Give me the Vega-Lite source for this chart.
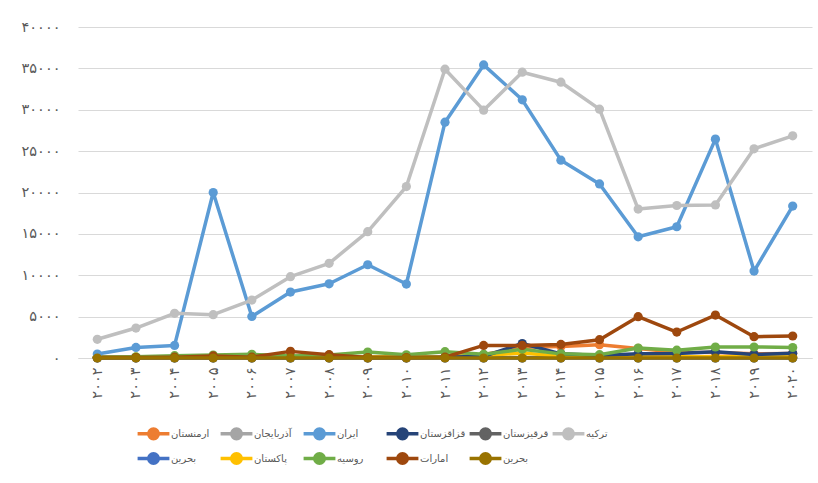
{
  "$schema": "https://vega.github.io/schema/vega-lite/v6.json",
  "width": 734,
  "height": 331,
  "autosize": {"type": "none"},
  "padding": {"left": 78, "top": 27, "right": 6, "bottom": 125},
  "background": "white",
  "config": {
    "font": "DejaVu Sans",
    "view": {"stroke": null},
    "legend": {"gridAlign": "all"},
    "line": {"strokeWidth": 3.5, "strokeJoin": "round", "strokeCap": "round"},
    "axis": {"labelColor": "#595959", "labelFontSize": 14.5, "gridColor": "#D9D9D9", "gridWidth": 1, "ticks": false, "tickSize": 0, "title": null}
  },
  "datasets": {
    "rows": [
      {"year": 2002, "country": "آذربایجان", "value": 60},
      {"year": 2003, "country": "آذربایجان", "value": 60},
      {"year": 2004, "country": "آذربایجان", "value": 60},
      {"year": 2005, "country": "آذربایجان", "value": 60},
      {"year": 2006, "country": "آذربایجان", "value": 60},
      {"year": 2007, "country": "آذربایجان", "value": 60},
      {"year": 2008, "country": "آذربایجان", "value": 60},
      {"year": 2009, "country": "آذربایجان", "value": 60},
      {"year": 2010, "country": "آذربایجان", "value": 60},
      {"year": 2011, "country": "آذربایجان", "value": 60},
      {"year": 2012, "country": "آذربایجان", "value": 60},
      {"year": 2013, "country": "آذربایجان", "value": 60},
      {"year": 2014, "country": "آذربایجان", "value": 60},
      {"year": 2015, "country": "آذربایجان", "value": 60},
      {"year": 2016, "country": "آذربایجان", "value": 60},
      {"year": 2017, "country": "آذربایجان", "value": 60},
      {"year": 2018, "country": "آذربایجان", "value": 60},
      {"year": 2019, "country": "آذربایجان", "value": 60},
      {"year": 2020, "country": "آذربایجان", "value": 60},
      {"year": 2002, "country": "قرقیزستان", "value": 20},
      {"year": 2003, "country": "قرقیزستان", "value": 20},
      {"year": 2004, "country": "قرقیزستان", "value": 20},
      {"year": 2005, "country": "قرقیزستان", "value": 20},
      {"year": 2006, "country": "قرقیزستان", "value": 20},
      {"year": 2007, "country": "قرقیزستان", "value": 20},
      {"year": 2008, "country": "قرقیزستان", "value": 20},
      {"year": 2009, "country": "قرقیزستان", "value": 20},
      {"year": 2010, "country": "قرقیزستان", "value": 20},
      {"year": 2011, "country": "قرقیزستان", "value": 20},
      {"year": 2012, "country": "قرقیزستان", "value": 20},
      {"year": 2013, "country": "قرقیزستان", "value": 20},
      {"year": 2014, "country": "قرقیزستان", "value": 20},
      {"year": 2015, "country": "قرقیزستان", "value": 20},
      {"year": 2016, "country": "قرقیزستان", "value": 20},
      {"year": 2017, "country": "قرقیزستان", "value": 20},
      {"year": 2018, "country": "قرقیزستان", "value": 20},
      {"year": 2019, "country": "قرقیزستان", "value": 20},
      {"year": 2020, "country": "قرقیزستان", "value": 20},
      {"year": 2002, "country": "بحرین", "value": 10},
      {"year": 2003, "country": "بحرین", "value": 10},
      {"year": 2004, "country": "بحرین", "value": 10},
      {"year": 2005, "country": "بحرین", "value": 10},
      {"year": 2006, "country": "بحرین", "value": 10},
      {"year": 2007, "country": "بحرین", "value": 10},
      {"year": 2008, "country": "بحرین", "value": 10},
      {"year": 2009, "country": "بحرین", "value": 10},
      {"year": 2010, "country": "بحرین", "value": 10},
      {"year": 2011, "country": "بحرین", "value": 10},
      {"year": 2012, "country": "بحرین", "value": 10},
      {"year": 2013, "country": "بحرین", "value": 10},
      {"year": 2014, "country": "بحرین", "value": 10},
      {"year": 2015, "country": "بحرین", "value": 10},
      {"year": 2016, "country": "بحرین", "value": 10},
      {"year": 2017, "country": "بحرین", "value": 10},
      {"year": 2018, "country": "بحرین", "value": 10},
      {"year": 2019, "country": "بحرین", "value": 10},
      {"year": 2020, "country": "بحرین", "value": 10},
      {"year": 2002, "country": "ارمنستان", "value": 80},
      {"year": 2003, "country": "ارمنستان", "value": 80},
      {"year": 2004, "country": "ارمنستان", "value": 80},
      {"year": 2005, "country": "ارمنستان", "value": 80},
      {"year": 2006, "country": "ارمنستان", "value": 80},
      {"year": 2007, "country": "ارمنستان", "value": 80},
      {"year": 2008, "country": "ارمنستان", "value": 80},
      {"year": 2009, "country": "ارمنستان", "value": 80},
      {"year": 2010, "country": "ارمنستان", "value": 80},
      {"year": 2011, "country": "ارمنستان", "value": 100},
      {"year": 2012, "country": "ارمنستان", "value": 400},
      {"year": 2013, "country": "ارمنستان", "value": 1300},
      {"year": 2014, "country": "ارمنستان", "value": 1400},
      {"year": 2015, "country": "ارمنستان", "value": 1600},
      {"year": 2016, "country": "ارمنستان", "value": 1150},
      {"year": 2017, "country": "ارمنستان", "value": 700},
      {"year": 2018, "country": "ارمنستان", "value": 650},
      {"year": 2019, "country": "ارمنستان", "value": 500},
      {"year": 2020, "country": "ارمنستان", "value": 550},
      {"year": 2002, "country": "پاکستان", "value": 100},
      {"year": 2003, "country": "پاکستان", "value": 100},
      {"year": 2004, "country": "پاکستان", "value": 120},
      {"year": 2005, "country": "پاکستان", "value": 120},
      {"year": 2006, "country": "پاکستان", "value": 120},
      {"year": 2007, "country": "پاکستان", "value": 150},
      {"year": 2008, "country": "پاکستان", "value": 150},
      {"year": 2009, "country": "پاکستان", "value": 150},
      {"year": 2010, "country": "پاکستان", "value": 150},
      {"year": 2011, "country": "پاکستان", "value": 150},
      {"year": 2012, "country": "پاکستان", "value": 300},
      {"year": 2013, "country": "پاکستان", "value": 600},
      {"year": 2014, "country": "پاکستان", "value": 200},
      {"year": 2015, "country": "پاکستان", "value": 150},
      {"year": 2016, "country": "پاکستان", "value": 150},
      {"year": 2017, "country": "پاکستان", "value": 150},
      {"year": 2018, "country": "پاکستان", "value": 150},
      {"year": 2019, "country": "پاکستان", "value": 150},
      {"year": 2020, "country": "پاکستان", "value": 150},
      {"year": 2002, "country": "قزاقزستان", "value": 50},
      {"year": 2003, "country": "قزاقزستان", "value": 50},
      {"year": 2004, "country": "قزاقزستان", "value": 50},
      {"year": 2005, "country": "قزاقزستان", "value": 50},
      {"year": 2006, "country": "قزاقزستان", "value": 50},
      {"year": 2007, "country": "قزاقزستان", "value": 50},
      {"year": 2008, "country": "قزاقزستان", "value": 50},
      {"year": 2009, "country": "قزاقزستان", "value": 50},
      {"year": 2010, "country": "قزاقزستان", "value": 50},
      {"year": 2011, "country": "قزاقزستان", "value": 80},
      {"year": 2012, "country": "قزاقزستان", "value": 200},
      {"year": 2013, "country": "قزاقزستان", "value": 1750},
      {"year": 2014, "country": "قزاقزستان", "value": 500},
      {"year": 2015, "country": "قزاقزستان", "value": 300},
      {"year": 2016, "country": "قزاقزستان", "value": 500},
      {"year": 2017, "country": "قزاقزستان", "value": 550},
      {"year": 2018, "country": "قزاقزستان", "value": 750},
      {"year": 2019, "country": "قزاقزستان", "value": 420},
      {"year": 2020, "country": "قزاقزستان", "value": 580},
      {"year": 2002, "country": "روسیه", "value": 100},
      {"year": 2003, "country": "روسیه", "value": 150},
      {"year": 2004, "country": "روسیه", "value": 280},
      {"year": 2005, "country": "روسیه", "value": 360},
      {"year": 2006, "country": "روسیه", "value": 440},
      {"year": 2007, "country": "روسیه", "value": 250},
      {"year": 2008, "country": "روسیه", "value": 350},
      {"year": 2009, "country": "روسیه", "value": 720},
      {"year": 2010, "country": "روسیه", "value": 380},
      {"year": 2011, "country": "روسیه", "value": 760},
      {"year": 2012, "country": "روسیه", "value": 440},
      {"year": 2013, "country": "روسیه", "value": 1050},
      {"year": 2014, "country": "روسیه", "value": 500},
      {"year": 2015, "country": "روسیه", "value": 400},
      {"year": 2016, "country": "روسیه", "value": 1200},
      {"year": 2017, "country": "روسیه", "value": 950},
      {"year": 2018, "country": "روسیه", "value": 1330},
      {"year": 2019, "country": "روسیه", "value": 1330},
      {"year": 2020, "country": "روسیه", "value": 1270},
      {"year": 2002, "country": "امارات", "value": 50},
      {"year": 2003, "country": "امارات", "value": 50},
      {"year": 2004, "country": "امارات", "value": 100},
      {"year": 2005, "country": "امارات", "value": 250},
      {"year": 2006, "country": "امارات", "value": 100},
      {"year": 2007, "country": "امارات", "value": 800},
      {"year": 2008, "country": "امارات", "value": 400},
      {"year": 2009, "country": "امارات", "value": 50},
      {"year": 2010, "country": "امارات", "value": 50},
      {"year": 2011, "country": "امارات", "value": 100},
      {"year": 2012, "country": "امارات", "value": 1520},
      {"year": 2013, "country": "امارات", "value": 1520},
      {"year": 2014, "country": "امارات", "value": 1640},
      {"year": 2015, "country": "امارات", "value": 2210},
      {"year": 2016, "country": "امارات", "value": 4990},
      {"year": 2017, "country": "امارات", "value": 3140},
      {"year": 2018, "country": "امارات", "value": 5190},
      {"year": 2019, "country": "امارات", "value": 2570},
      {"year": 2020, "country": "امارات", "value": 2660},
      {"year": 2002, "country": "ایران", "value": 480},
      {"year": 2003, "country": "ایران", "value": 1280},
      {"year": 2004, "country": "ایران", "value": 1520},
      {"year": 2005, "country": "ایران", "value": 20000},
      {"year": 2006, "country": "ایران", "value": 5020},
      {"year": 2007, "country": "ایران", "value": 7970},
      {"year": 2008, "country": "ایران", "value": 8970},
      {"year": 2009, "country": "ایران", "value": 11270},
      {"year": 2010, "country": "ایران", "value": 8940},
      {"year": 2011, "country": "ایران", "value": 28500},
      {"year": 2012, "country": "ایران", "value": 35420},
      {"year": 2013, "country": "ایران", "value": 31200},
      {"year": 2014, "country": "ایران", "value": 23910},
      {"year": 2015, "country": "ایران", "value": 21030},
      {"year": 2016, "country": "ایران", "value": 14650},
      {"year": 2017, "country": "ایران", "value": 15860},
      {"year": 2018, "country": "ایران", "value": 26450},
      {"year": 2019, "country": "ایران", "value": 10510},
      {"year": 2020, "country": "ایران", "value": 18360},
      {"year": 2002, "country": "ترکیه", "value": 2260},
      {"year": 2003, "country": "ترکیه", "value": 3620},
      {"year": 2004, "country": "ترکیه", "value": 5400},
      {"year": 2005, "country": "ترکیه", "value": 5230},
      {"year": 2006, "country": "ترکیه", "value": 7000},
      {"year": 2007, "country": "ترکیه", "value": 9830},
      {"year": 2008, "country": "ترکیه", "value": 11440},
      {"year": 2009, "country": "ترکیه", "value": 15270},
      {"year": 2010, "country": "ترکیه", "value": 20720},
      {"year": 2011, "country": "ترکیه", "value": 34900},
      {"year": 2012, "country": "ترکیه", "value": 29950},
      {"year": 2013, "country": "ترکیه", "value": 34540},
      {"year": 2014, "country": "ترکیه", "value": 33330},
      {"year": 2015, "country": "ترکیه", "value": 30070},
      {"year": 2016, "country": "ترکیه", "value": 18000},
      {"year": 2017, "country": "ترکیه", "value": 18430},
      {"year": 2018, "country": "ترکیه", "value": 18500},
      {"year": 2019, "country": "ترکیه", "value": 25280},
      {"year": 2020, "country": "ترکیه", "value": 26850},
      {"year": 2002, "country": "بحرین ", "value": 0},
      {"year": 2003, "country": "بحرین ", "value": 0},
      {"year": 2004, "country": "بحرین ", "value": 0},
      {"year": 2005, "country": "بحرین ", "value": 0},
      {"year": 2006, "country": "بحرین ", "value": 0},
      {"year": 2007, "country": "بحرین ", "value": 0},
      {"year": 2008, "country": "بحرین ", "value": 0},
      {"year": 2009, "country": "بحرین ", "value": 0},
      {"year": 2010, "country": "بحرین ", "value": 0},
      {"year": 2011, "country": "بحرین ", "value": 0},
      {"year": 2012, "country": "بحرین ", "value": 0},
      {"year": 2013, "country": "بحرین ", "value": 0},
      {"year": 2014, "country": "بحرین ", "value": 0},
      {"year": 2015, "country": "بحرین ", "value": 0},
      {"year": 2016, "country": "بحرین ", "value": 0},
      {"year": 2017, "country": "بحرین ", "value": 0},
      {"year": 2018, "country": "بحرین ", "value": 0},
      {"year": 2019, "country": "بحرین ", "value": 0},
      {"year": 2020, "country": "بحرین ", "value": 0}
    ]
  },
  "data": {"name": "rows"},
  "encoding": {
    "x": {
      "field": "year", "type": "ordinal", "sort": "ascending",
      "scale": {"type": "point", "padding": 0.5},
      "axis": {
        "labelAngle": -90, "labelPadding": 9, "domain": true, "domainColor": "#D9D9D9", "domainWidth": 1, "grid": false,
        "labelExpr": "replace(replace(replace(replace(replace(replace(replace(replace(replace(replace(datum.label,/0/g,'۰'),/1/g,'۱'),/2/g,'۲'),/3/g,'۳'),/4/g,'۴'),/5/g,'۵'),/6/g,'۶'),/7/g,'۷'),/8/g,'۸'),/9/g,'۹')"
      }
    },
    "y": {
      "field": "value", "type": "quantitative",
      "scale": {"domain": [0, 40000], "nice": false},
      "axis": {
        "values": [0, 5000, 10000, 15000, 20000, 25000, 30000, 35000, 40000],
        "format": "d", "domain": false, "grid": true, "labelPadding": 18,
        "labelExpr": "replace(replace(replace(replace(replace(replace(replace(replace(replace(replace(datum.label,/0/g,'۰'),/1/g,'۱'),/2/g,'۲'),/3/g,'۳'),/4/g,'۴'),/5/g,'۵'),/6/g,'۶'),/7/g,'۷'),/8/g,'۸'),/9/g,'۹')"
      }
    },
    "color": {
      "field": "country", "type": "nominal",
      "scale": {
        "domain": ["ارمنستان", "آذربایجان", "ایران", "قزاقزستان", "قرقیزستان", "ترکیه", "بحرین", "پاکستان", "روسیه", "امارات", "بحرین "],
        "range": ["#ED7D31", "#A5A5A5", "#5B9BD5", "#264478", "#636363", "#BFBFBF", "#4472C4", "#FFC000", "#70AD47", "#9E480E", "#997300"]
      },
      "legend": {
        "orient": "none", "legendX": 63, "legendY": 394, "direction": "horizontal", "columns": 6,
        "title": null, "gridAlign": "all", "columnPadding": -4, "rowPadding": 0,
        "labelFontSize": 10, "labelColor": "#595959", "labelOffset": 5,
        "symbolType": "M -1.5 0 L 1.5 0 M -0.45 0 A 0.45 0.45 0 1 1 0.45 0 A 0.45 0.45 0 1 1 -0.45 0",
        "symbolSize": 450, "symbolStrokeWidth": 3.5, "symbolOpacity": 1,
        "encode": {"symbols": {"update": {"fill": {"scale": "color", "field": "value"}, "stroke": {"scale": "color", "field": "value"}}}}
      }
    }
  },
  "layer": [
    {"transform": [{"filter": {"field": "country", "oneOf": ["آذربایجان", "قرقیزستان", "بحرین"]}}], "mark": {"type": "line", "point": {"filled": true, "size": 85, "opacity": 1}}},
    {"transform": [{"filter": {"field": "country", "equal": "ارمنستان"}}], "mark": {"type": "line", "point": {"filled": true, "size": 85, "opacity": 1}}},
    {"transform": [{"filter": {"field": "country", "equal": "پاکستان"}}], "mark": {"type": "line", "point": {"filled": true, "size": 85, "opacity": 1}}},
    {"transform": [{"filter": {"field": "country", "equal": "قزاقزستان"}}], "mark": {"type": "line", "point": {"filled": true, "size": 85, "opacity": 1}}},
    {"transform": [{"filter": {"field": "country", "equal": "روسیه"}}], "mark": {"type": "line", "point": {"filled": true, "size": 85, "opacity": 1}}},
    {"transform": [{"filter": {"field": "country", "equal": "امارات"}}], "mark": {"type": "line", "point": {"filled": true, "size": 85, "opacity": 1}}},
    {"transform": [{"filter": {"field": "country", "equal": "ایران"}}], "mark": {"type": "line", "point": {"filled": true, "size": 85, "opacity": 1}}},
    {"transform": [{"filter": {"field": "country", "equal": "ترکیه"}}], "mark": {"type": "line", "point": {"filled": true, "size": 85, "opacity": 1}}},
    {"transform": [{"filter": {"field": "country", "equal": "بحرین "}}], "mark": {"type": "line", "point": {"filled": true, "size": 85, "opacity": 1}}}
  ]
}
